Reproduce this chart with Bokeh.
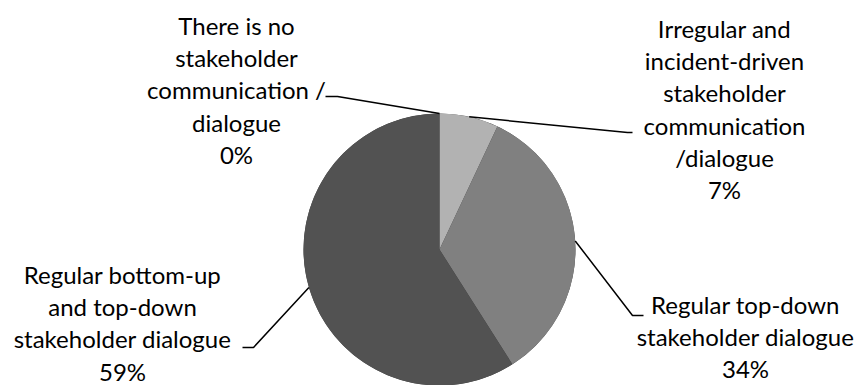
import math
from bokeh.plotting import figure
from bokeh.models import Range1d, ColumnDataSource
from bokeh.core.properties import value
from bokeh.embed import file_html
from bokeh.resources import INLINE

# ---- data ----
categories = [
    "There is no\nstakeholder\ncommunication /\ndialogue",
    "Irregular and\nincident-driven\nstakeholder\ncommunication\n/dialogue",
    "Regular top-down\nstakeholder dialogue",
    "Regular bottom-up\nand top-down\nstakeholder dialogue",
]
values = [0, 7, 34, 59]
colors = ["#3a3a3a", "#b2b2b2", "#808080", "#525252"]

# ---- layout (pixel coordinates, y measured from top) ----
W, H = 859, 385
CX, CY, R = 439, 249, 136
label_pos = [(236, 25), (724, 28), (745, 304), (122, 274)]   # centre x, first line y
elbows = [((337, 96), (325, 96)),
          ((627, 132), (632, 132)),
          ((632, 315), (643, 315)),
          ((253, 347), (242, 347))]
LINE_H = 32.2
FONT = "Lato"
FSIZE = "24px"

def fy(y):
    return H - y

p = figure(width=W, height=H, output_backend="svg", toolbar_location=None,
           x_range=Range1d(0, W), y_range=Range1d(0, H),
           x_axis_type=None, y_axis_type=None, min_border=0)
p.outline_line_color = None
p.grid.visible = False
p.background_fill_color = "white"
p.border_fill_color = "white"

total = float(sum(values))
starts, ends, mids = [], [], []
cum = 0.0
for v in values:
    a0 = math.pi / 2 - 2 * math.pi * cum / total
    cum += v
    a1 = math.pi / 2 - 2 * math.pi * cum / total
    starts.append(a0)
    ends.append(a1)
    mids.append((a0 + a1) / 2)

src = ColumnDataSource(dict(start=starts, end=ends, color=colors))
p.wedge(x=CX, y=fy(CY), radius=R, start_angle="start", end_angle="end",
        direction="clock", fill_color="color", line_color=None, source=src)

# leader lines
for m, (e1, e2) in zip(mids, elbows):
    ex = CX + R * math.cos(m)
    ey = fy(CY) + R * math.sin(m)
    p.line([ex, e1[0], e2[0]], [ey, fy(e1[1]), fy(e2[1])],
           line_color="black", line_width=1.5)

# labels
tx, ty, tt = [], [], []
for cat, v, (lx, ly) in zip(categories, values, label_pos):
    lines = cat.split("\n") + [f"{v}%"]
    for i, s in enumerate(lines):
        tx.append(lx)
        ty.append(fy(ly + i * LINE_H))
        tt.append(s)
p.text(x=tx, y=ty, text=tt, text_align="center", text_baseline="middle",
       text_font=value(FONT), text_font_size=FSIZE, text_color="#000000")

open("out.html", "w").write(file_html(p, INLINE))
